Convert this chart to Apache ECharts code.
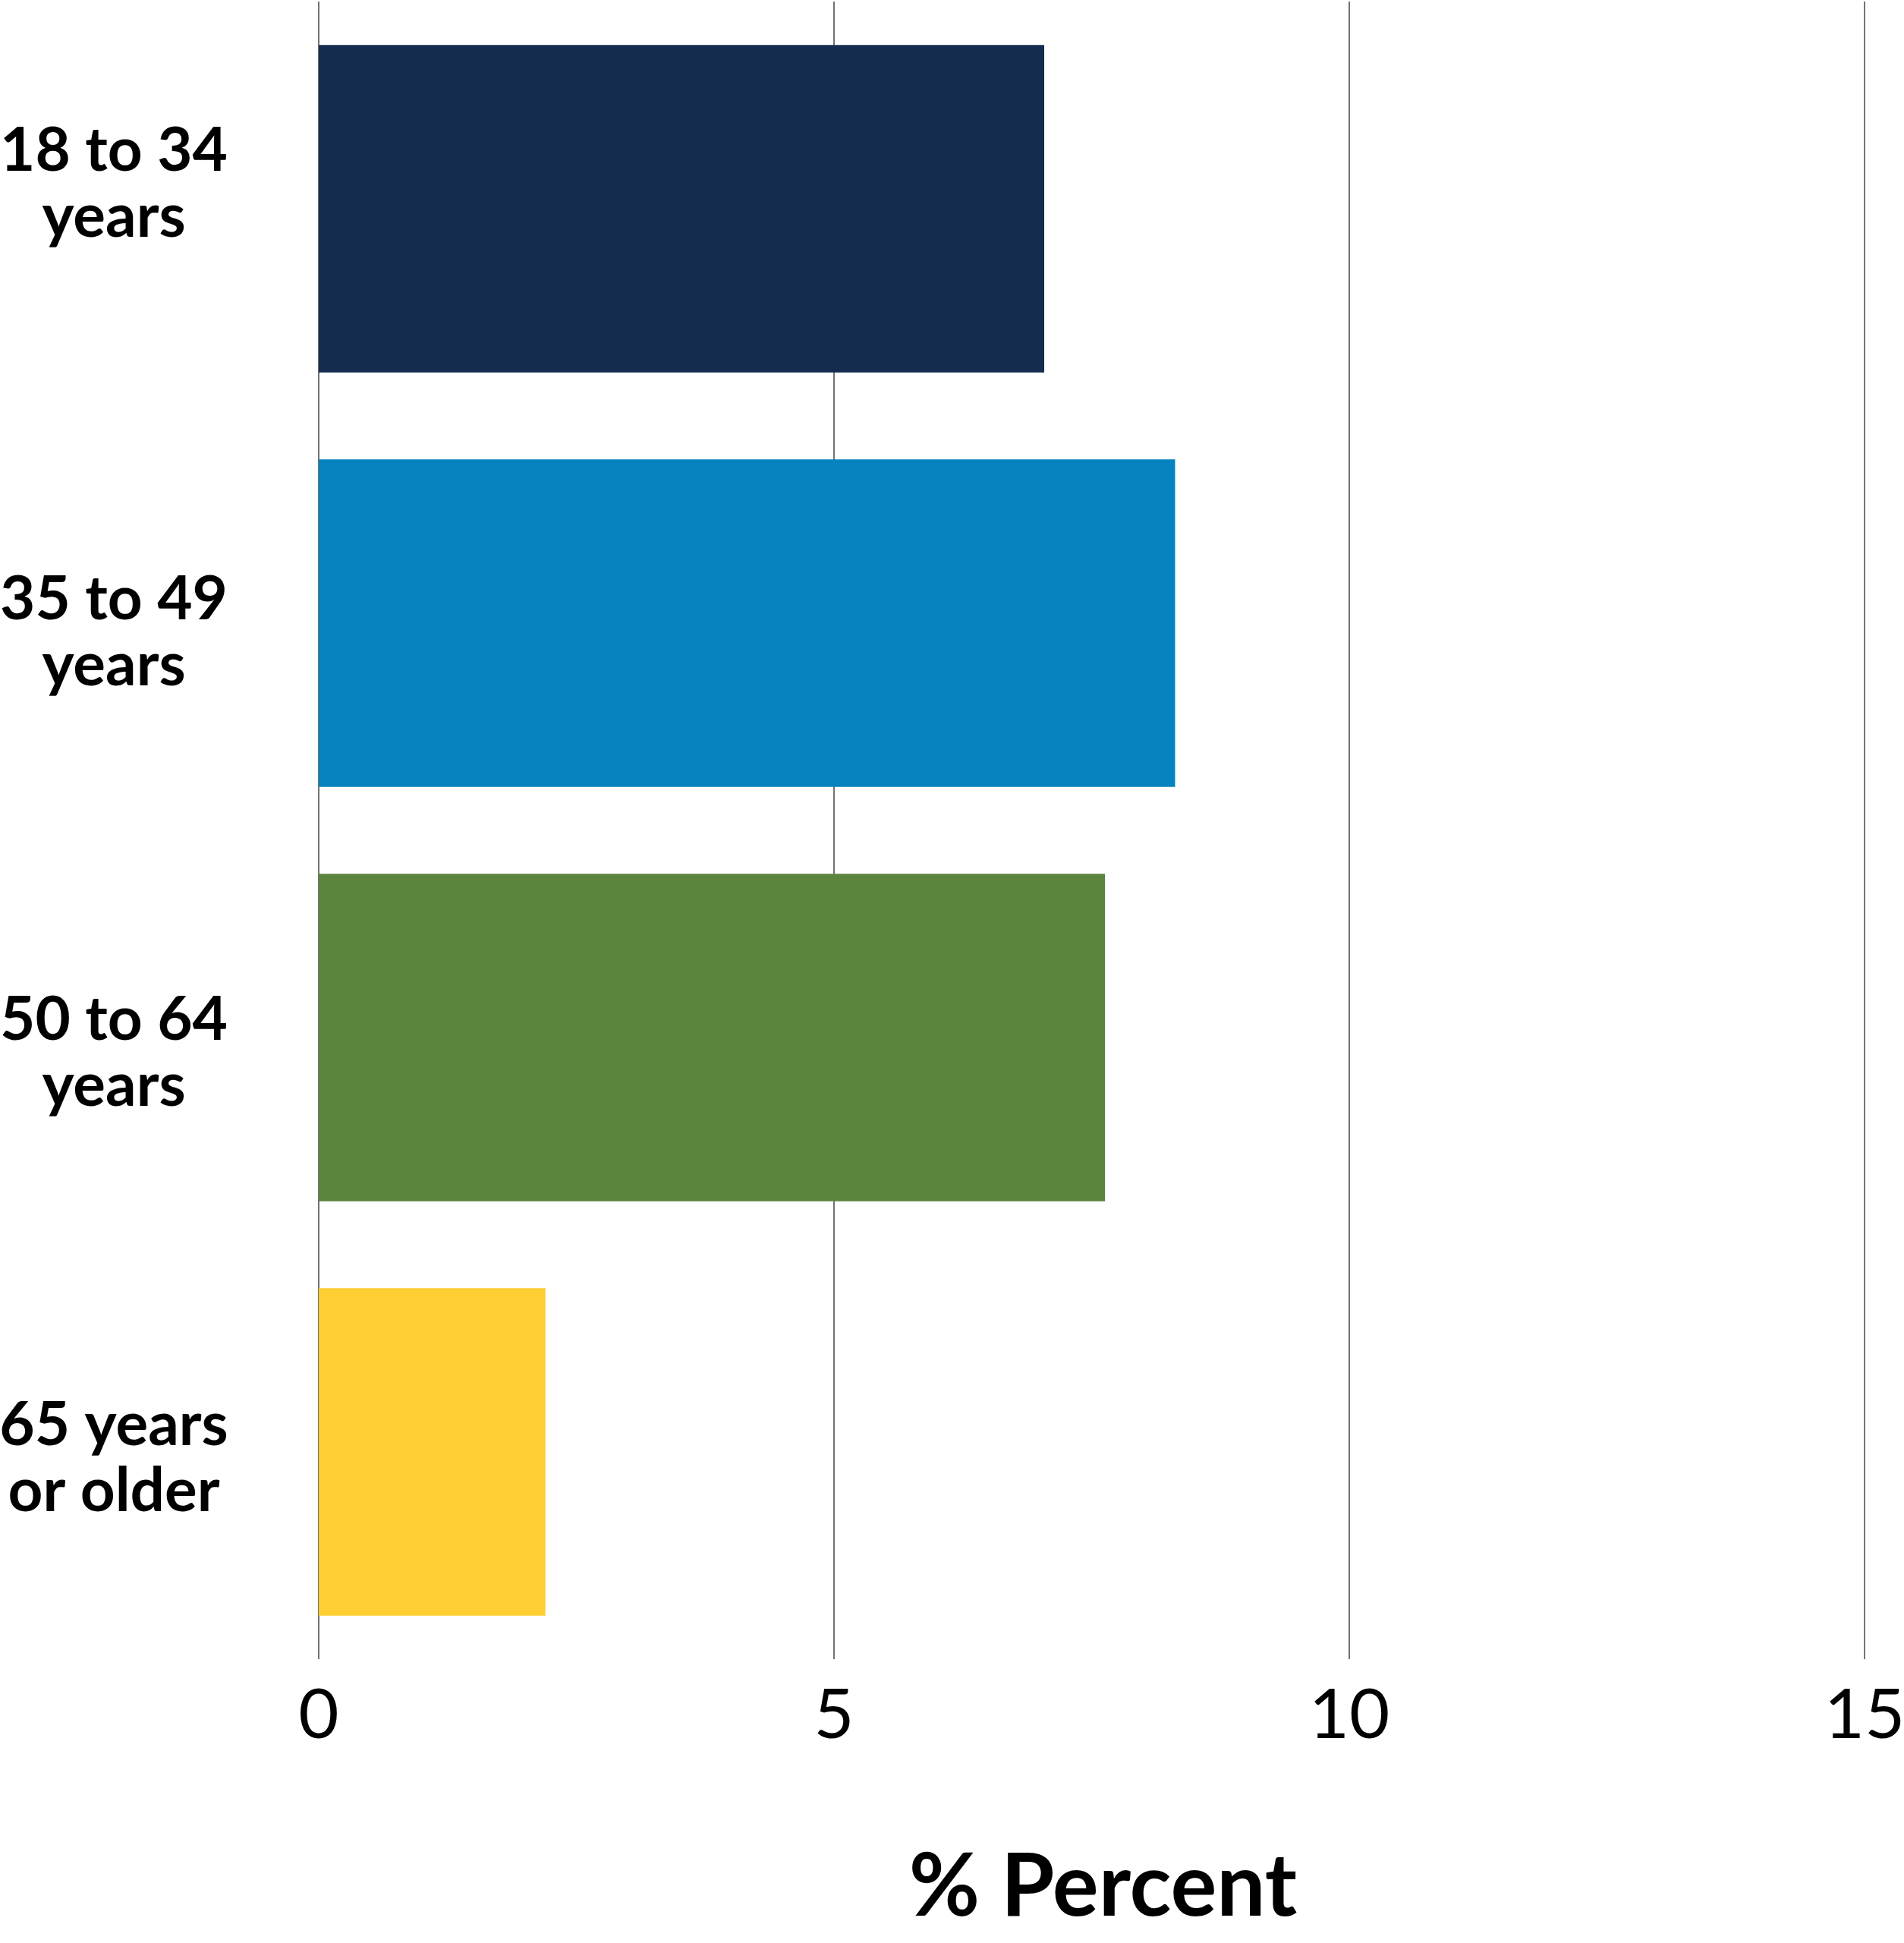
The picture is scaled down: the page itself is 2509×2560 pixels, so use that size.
<!DOCTYPE html>
<html>
<head>
<meta charset="utf-8">
<script src="https://cdn.jsdelivr.net/npm/echarts@6/dist/echarts.min.js"></script>
<style>
  html, body { margin: 0; padding: 0; background: #fff; }
  #chart { width: 2509px; height: 2560px; }
</style>
</head>
<body>
<div id="chart"></div>
<script>
// age groups, top to bottom
let categories = ['18 to 34\nyears', '35 to 49\nyears', '50 to 64\nyears', '65 years\nor older'];
let values = [7.04, 8.31, 7.63, 2.2];
let barColors = ['#142D4F', '#0682BE', '#5B853D', '#FFCE33'];
let xTicks = [0, 5, 10, 15];

// labels in the source are not exactly centred on their bars
let labelShift = [-32, 13, 21, 9];

let myChart = echarts.init(document.getElementById('chart'));

let data = values.map(function(v, i){
    return { value: v, itemStyle: { color: barColors[i] } };
});

// a blank spacer line above or below the label moves the centred block
let rich = {
    t: { fontFamily: 'Lato', fontWeight: 'bold', fontSize: 80, color: '#000', lineHeight: 87, align: 'center' }
};
labelShift.forEach(function(d, i){
    rich['s' + i] = { fontSize: 2, lineHeight: Math.abs(2 * d), align: 'center' };
});

let option = {
    backgroundColor: '#fff',
    animation: false,
    grid: { left: 420, right: 52, top: 2, bottom: 374, containLabel: false, outerBoundsMode: 'none' },
    xAxis: {
        type: 'value',
        min: xTicks[0],
        max: xTicks[xTicks.length - 1],
        interval: 5,
        name: '% Percent',
        nameLocation: 'middle',
        nameGap: 244,
        nameTextStyle: {
            fontFamily: 'Lato', fontWeight: 'bold', fontSize: 114, color: '#000',
            padding: [0, 0, 0, 30]
        },
        axisLine: { show: false },
        axisTick: { show: false },
        axisLabel: { fontFamily: 'Lato', fontSize: 92, color: '#000', margin: 28 },
        splitLine: { show: true, lineStyle: { color: '#444', width: 1.5 } }
    },
    yAxis: {
        type: 'category',
        inverse: true,
        data: categories,
        axisLine: { show: false },
        axisTick: { show: false },
        axisLabel: {
            fontFamily: 'Lato', fontWeight: 'bold', fontSize: 80, color: '#000',
            lineHeight: 87, align: 'center', margin: 270,
            formatter: function(value, index){
                let lines = value.split('\n');
                let txt = '{t|' + lines[0] + '}\n{t|' + lines[1] + '}';
                let spacer = '{s' + index + '| }';
                return labelShift[index] < 0 ? txt + '\n' + spacer : spacer + '\n' + txt;
            },
            rich: rich
        }
    },
    series: [{
        type: 'bar',
        data: data,
        barCategoryGap: '21%'
    }]
};

myChart.setOption(option);
</script>
</body>
</html>
